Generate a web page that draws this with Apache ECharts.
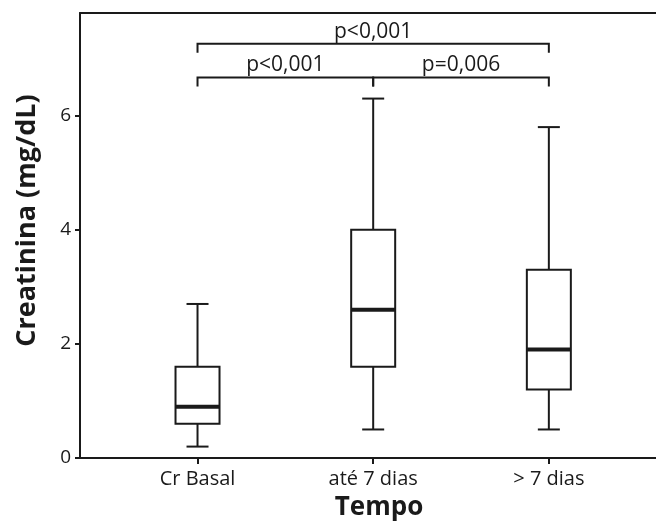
<!DOCTYPE html>
<html>
<head>
<meta charset="utf-8">
<script src="https://cdn.jsdelivr.net/npm/echarts@6/dist/echarts.min.js"></script>
<style>
  html, body { margin: 0; padding: 0; background: #fff; }
  #main { width: 656px; height: 522px; }
</style>
</head>
<body>
<div id="main"></div>
<script>
// dados
const categories = ['Cr Basal', 'até 7 dias', '> 7 dias'];
const whiskerLow = [0.2, 0.5, 0.5];
const boxLow = [0.6, 1.6, 1.2];
const median = [0.9, 2.6, 1.9];
const boxHigh = [1.6, 4.0, 3.3];
const whiskerHigh = [2.7, 6.3, 5.8];
const yTicks = [0, 2, 4, 6];

// comparações (colchetes)
const bracketStart = [1, 1, 2];
const bracketEnd = [3, 2, 3];
const bracketLevel = [7.26, 6.67, 6.67];
const bracketText = ['p<0,001', 'p<0,001', 'p=0,006'];

const FONT = 'Open Sans';
const INK = '#1a1a1a';
const catPos = categories.map((c, i) => i + 1);

var myChart = echarts.init(document.getElementById('main'));

const boxData = categories.map((c, i) => [i + 1, whiskerLow[i], boxLow[i], median[i], boxHigh[i], whiskerHigh[i]]);
const bracketData = bracketText.map((t, i) => [bracketStart[i], bracketEnd[i], bracketLevel[i]]);

function renderBox(params, api) {
  const x = api.value(0);
  const pLow = api.coord([x, api.value(1)]);
  const pQ1 = api.coord([x, api.value(2)]);
  const pMed = api.coord([x, api.value(3)]);
  const pQ3 = api.coord([x, api.value(4)]);
  const pHigh = api.coord([x, api.value(5)]);
  const half = 22, cap = 11;
  const ls = { stroke: INK, lineWidth: 2, fill: null };
  return {
    type: 'group',
    children: [
      { type: 'line', shape: { x1: pLow[0], y1: pLow[1], x2: pQ1[0], y2: pQ1[1] }, style: ls },
      { type: 'line', shape: { x1: pQ3[0], y1: pQ3[1], x2: pHigh[0], y2: pHigh[1] }, style: ls },
      { type: 'line', shape: { x1: pLow[0] - cap, y1: pLow[1], x2: pLow[0] + cap, y2: pLow[1] }, style: ls },
      { type: 'line', shape: { x1: pHigh[0] - cap, y1: pHigh[1], x2: pHigh[0] + cap, y2: pHigh[1] }, style: ls },
      { type: 'rect', shape: { x: pQ3[0] - half, y: pQ3[1], width: half * 2, height: pQ1[1] - pQ3[1] },
        style: { stroke: INK, lineWidth: 2, fill: '#fff' } },
      { type: 'line', shape: { x1: pMed[0] - half, y1: pMed[1], x2: pMed[0] + half, y2: pMed[1] },
        style: { stroke: INK, lineWidth: 4 } }
    ]
  };
}

function renderBracket(params, api) {
  const a = api.coord([api.value(0), api.value(2)]);
  const b = api.coord([api.value(1), api.value(2)]);
  const drop = 9;
  return {
    type: 'group',
    children: [
      { type: 'polyline', shape: { points: [[a[0], a[1] + drop], a, b, [b[0], b[1] + drop]] },
        style: { stroke: INK, lineWidth: 2, fill: null } },
      { type: 'text', x: (a[0] + b[0]) / 2, y: a[1] - 12,
        style: { text: bracketText[params.dataIndex], fill: INK, font: '21px "' + FONT + '"',
          align: 'center', verticalAlign: 'middle' } }
    ]
  };
}

var option = {
  animation: false,
  grid: { left: 80, right: 0, top: 13, bottom: 64, outerBoundsMode: 'none' },
  xAxis: [{
    type: 'value',
    min: 0.331,
    max: 3.61,
    name: 'Tempo',
    nameLocation: 'middle',
    nameGap: 37,
    nameTextStyle: { fontFamily: FONT, fontSize: 26, fontWeight: 'bold', color: INK, padding: [0, 0, 0, 22] },
    splitLine: { show: false },
    axisLine: { lineStyle: { color: INK, width: 2 } },
    axisTick: { show: true, customValues: catPos, length: 6, lineStyle: { color: INK, width: 2 } },
    axisLabel: {
      customValues: catPos,
      formatter: v => categories[Math.round(v) - 1],
      margin: 11,
      fontFamily: FONT, fontSize: 20, color: INK
    }
  }, {
    type: 'value',
    position: 'top',
    min: 0.331,
    max: 3.61,
    splitLine: { show: false },
    axisLine: { show: true, lineStyle: { color: INK, width: 2 } },
    axisTick: { show: false },
    axisLabel: { show: false }
  }],
  yAxis: {
    type: 'value',
    min: 0,
    max: 7.8,
    interval: 2,
    name: 'Creatinina (mg/dL)',
    nameLocation: 'middle',
    nameGap: 39,
    nameTextStyle: { fontFamily: FONT, fontSize: 27, fontWeight: 'bold', color: INK, padding: [0, 0, 0, 30] },
    splitLine: { show: false },
    axisLine: { show: true, lineStyle: { color: INK, width: 2 } },
    axisTick: { show: true, customValues: yTicks, length: 5, lineStyle: { color: INK, width: 2 } },
    axisLabel: { customValues: yTicks, margin: 9, fontFamily: FONT, fontSize: 19, color: INK }
  },
  series: [{
    type: 'custom',
    renderItem: renderBox,
    data: boxData,
    encode: { x: 0, y: [1, 2, 3, 4, 5] },
    clip: false
  }, {
    type: 'custom',
    renderItem: renderBracket,
    data: bracketData,
    encode: { x: [0, 1], y: 2 },
    clip: false
  }]
};

myChart.setOption(option);
</script>
</body>
</html>
